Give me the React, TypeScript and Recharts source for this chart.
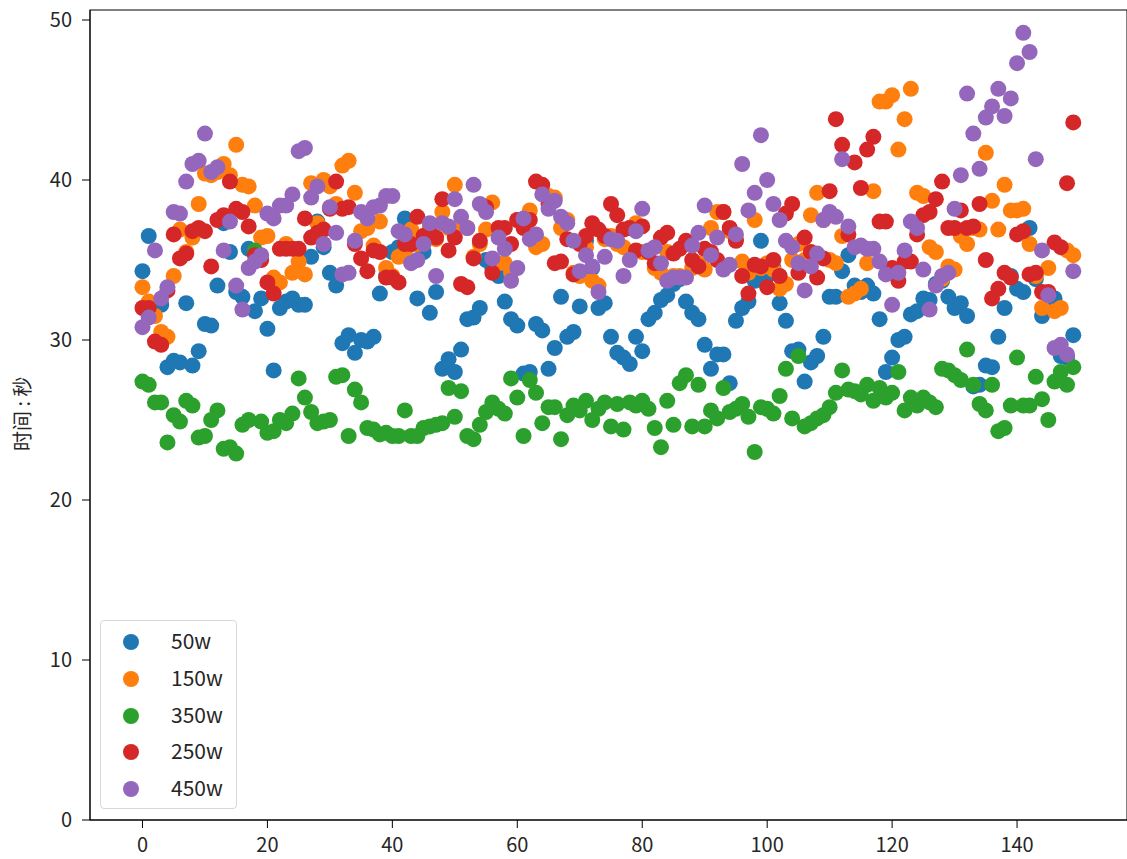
import React from "react";
import { ScatterChart, Scatter, XAxis, YAxis, Legend } from "recharts";

const w50 = [34.3,36.5,32,32.2,28.3,28.7,28.6,32.3,28.4,29.3,31,30.9,33.4,37.3,35.5,33,32.7,35.7,31.8,32.6,30.7,28.1,32,32.4,32.6,32.2,32.2,35.2,37.4,35.8,34.2,33.4,29.8,30.3,29.2,30,29.9,30.2,32.9,34,35.5,35.8,37.6,36,32.6,35.5,31.7,33,28.2,28.8,28,29.4,31.3,31.4,32,35,34.5,34,32.4,31.3,30.9,27.9,28,31,30.6,28.2,29.5,32.7,30.2,30.5,32.1,36.2,34.5,32,32.3,30.2,29.2,28.9,28.5,30.2,29.3,31.3,31.7,32.5,32.8,33.5,33.8,32.4,31.7,31.3,29.7,28.2,29.1,29.1,27.3,31.2,32,32.4,33.7,36.2,34,34.5,32.3,31.2,29.3,29.4,27.4,28.6,29,30.2,32.7,32.7,34.3,35.3,33.4,33,33.4,32.9,31.3,28,28.9,30,30.2,31.6,31.8,32.6,32.5,33.5,33.7,32.7,32,32.3,31.5,27.1,27.2,28.4,28.3,30.2,32,34,33.2,33,37,33.8,31.5,32.2,32.6,29,28.9,30.3];
const w150 = [33.3,32.4,31.5,30.5,30.2,34,36.9,35.5,36.4,38.5,40.4,40.3,40.5,41,40.3,42.2,39.7,39.6,38.4,36.4,36.5,33.9,33.6,36,34.2,34.9,34.1,39.8,37.3,40,39.6,38.5,40.9,41.2,39.2,36.8,37,35.9,37.4,34.5,34,35.2,35.5,36.9,36,36.5,37,36.3,38,37,39.7,37.2,37,35.2,36,36.9,38.6,34.8,34.8,34.2,37.5,37.2,38.1,35.8,36,39,38.9,37,37.5,34.2,34,35.8,33.7,33.4,36.3,36.5,36,35.8,37,37.3,35.5,35.5,34.5,34.2,35.5,34,34,36,34.5,34.8,34.4,37,38,38,36.8,36.3,34.9,34.2,37.5,34.5,34.8,34.4,33.2,33.5,35,36,35,37.8,39.2,37.5,35,34.8,36.5,32.7,32.9,33.2,34.8,39.3,44.9,44.9,45.3,41.9,43.8,45.7,39.2,39,35.8,35.5,33.8,34.6,34.4,36.5,36,37,36.9,41.7,38.7,36.9,39.7,38.1,38.1,38.2,36,34,32,34.5,31.8,32,35.6,35.3];
const w350 = [27.4,27.2,26.1,26.1,23.6,25.3,24.9,26.2,25.9,23.9,24,25,25.6,23.2,23.3,22.9,24.7,25,35.6,24.9,24.2,24.3,25,24.8,25.4,27.6,26.4,25.5,24.8,24.9,25,27.7,27.8,24,26.9,26.1,24.5,24.4,24.1,24.2,24,24,25.6,24,24,24.5,24.6,24.7,24.8,27,25.2,26.8,24,23.8,24.7,25.5,26.1,25.7,25.4,27.6,26.4,24,27.5,26.7,24.8,25.8,25.8,23.8,25.3,25.9,25.6,26.2,25,25.7,26.1,24.6,26,24.4,26.1,25.9,26.2,25.7,24.5,23.3,26.2,24.7,27.3,27.8,24.6,27.2,24.6,25.6,25.1,27,25.5,25.7,26,25.2,23,25.8,25.7,25.4,26.5,28.2,25.1,29,24.6,24.8,25.1,25.3,25.8,26.7,28.1,26.9,26.8,26.6,27.2,26.2,27,26.4,26.7,28,25.6,26.4,25.9,26.4,26.1,25.8,28.2,28.1,27.8,27.5,29.4,27.2,26,25.6,27.2,24.3,24.5,25.9,28.9,25.9,25.9,27.7,26.3,25,27.4,28,27.2,28.3];
const w250 = [32,32,29.9,29.7,33.1,36.6,35.1,35.4,36.8,37,36.8,34.6,37.5,37.8,39.9,38.2,38,37.1,35.3,35,33.6,32.9,35.7,35.7,35.7,35.7,37.6,36.4,36.7,36.9,38.2,39.9,38.2,38.3,36,35.1,34.3,35.6,35.5,33.9,33.9,33.6,36,36,37.7,36.5,36.7,36.4,38.8,35.6,36.4,33.5,33.3,35.1,36.2,38.3,34.2,37,37,36,37.5,37,37.5,39.9,39.7,38.5,34.8,34.9,36.3,34.1,36,36.5,37.3,36.9,36.5,38.5,37.8,36.9,37,35.6,37.1,35.5,34.8,36.4,36.7,35.4,35.7,36.2,35,34.6,35.7,35.5,35,38,37,36.2,34,32.9,34.7,34.6,33.3,35,34,37.9,38.5,34.2,36.4,35.5,33.9,35.1,39.3,43.8,42.2,36.6,41.1,39.5,41.9,42.7,37.4,37.4,34.5,33.7,34.9,34.9,36.6,37.8,38,38.8,39.9,37,37,38.1,37,37.1,38.5,35,32.6,33.2,34.2,33.9,36.6,36.8,34.1,34.2,33,33,36.1,35.8,39.8,43.6];
const w450 = [30.8,31.4,35.6,32.6,33.3,38,37.9,39.9,41,41.2,42.9,40.5,40.8,35.6,37.4,33.4,31.9,34.5,34.9,35.3,37.9,37.6,38.4,38.4,39.1,41.8,42,38.9,39.6,36,38.3,36.7,34.1,34.2,36.2,38,37.6,38.3,38.4,39,39,36.8,36.6,34.8,35,36,37.3,34,37.3,37.1,38.8,37.7,37,39.7,38.5,38,35.1,36.4,35.7,33.7,34.5,37.6,36.3,36.6,39.1,38.2,38.7,37.7,37.3,36.2,34.3,35.3,34.6,33,35.2,36.3,36.2,34,35,36.8,38.2,35.6,35.8,34.8,33.7,33.9,33.9,33.9,35.9,36.7,38.4,35.3,36.4,34.4,34.7,36.6,41,38.1,39.2,42.8,40,38.5,37.5,36.2,35.8,34.8,33.1,34.6,35.4,37.5,38,37.7,41.3,37.1,35.8,35.9,35.7,35.7,34.9,34.1,32.2,34.2,35.6,37.4,37,34.4,31.9,33.4,34,34.2,38.2,40.3,45.4,42.9,40.7,43.9,44.6,45.7,44,45.1,47.3,49.2,48,41.3,35.6,32.8,29.5,29.7,29.1,34.3];

const xTicks = [0, 20, 40, 60, 80, 100, 120, 140];
const yTicks = [0, 10, 20, 30, 40, 50];
const FONT = '"Noto Sans CJK SC", sans-serif';

const toPoints = (vals: number[]) => vals.map((y, x) => ({ x, y }));

const seriesList = [
  { name: "50w", values: w50, color: "#1f77b4" },
  { name: "150w", values: w150, color: "#ff7f0e" },
  { name: "350w", values: w350, color: "#2ca02c" },
  { name: "250w", values: w250, color: "#d62728" },
  { name: "450w", values: w450, color: "#9467bd" },
];

const dot = (color: string) => (p: any) => <circle cx={p.cx} cy={p.cy} r={8} fill={color} />;

const LegendBox = () => (
  <div
    style={{
      width: 137,
      height: 189,
      border: "1px solid #d8d8d8",
      borderRadius: 4,
      background: "rgba(255,255,255,0.8)",
      boxSizing: "border-box",
      fontFamily: FONT,
      fontSize: 21,
      color: "#262626",
      paddingTop: 3,
    }}
  >
    {seriesList.map((s) => (
      <div key={s.name} style={{ display: "flex", alignItems: "center", height: 36.7 }}>
        <svg width={16} height={16} style={{ marginLeft: 22, flex: "none" }}>
          <circle cx={8} cy={8} r={8} fill={s.color} />
        </svg>
        <span style={{ marginLeft: 32, lineHeight: "20px", position: "relative", top: -2 }}>{s.name}</span>
      </div>
    ))}
  </div>
);

export default function App() {
  return (
    <div style={{ position: "absolute", left: 0, top: 0, width: 1127, height: 859, background: "#fff", overflow: "hidden" }}>
      <ScatterChart width={1127} height={859} margin={{ top: 10, right: 0, bottom: 0, left: 0 }}>
        <rect x={90} y={10} width={1037} height={810} fill="none" stroke="#000" strokeWidth={1} />
        <XAxis
          type="number"
          dataKey="x"
          domain={[-8.4, 157.6]}
          ticks={xTicks}
          allowDataOverflow
          height={39}
          tick={{ fill: "#262626", fontSize: 20, fontFamily: FONT }}
          tickLine={{ stroke: "#000" }}
          tickSize={8}
          tickMargin={10}
          axisLine={{ stroke: "#000" }}
          interval={0}
        />
        <YAxis
          type="number"
          dataKey="y"
          domain={[0, 50.625]}
          ticks={yTicks}
          allowDataOverflow
          width={90}
          tick={{ fill: "#262626", fontSize: 20, fontFamily: FONT }}
          tickLine={{ stroke: "#000" }}
          tickSize={8}
          tickMargin={10}
          axisLine={{ stroke: "#000" }}
          interval={0}
          label={{
            value: "时间 : 秒",
            angle: -90,
            position: "insideLeft",
            dx: 18,
            dy: 36,
            style: { fill: "#262626", fontSize: 20, fontFamily: FONT },
          }}
        />
        {seriesList.map((s) => (
          <Scatter
            key={s.name}
            name={s.name}
            data={toPoints(s.values)}
            fill={s.color}
            shape={dot(s.color)}
            isAnimationActive={false}
          />
        ))}
        <Legend
          layout="horizontal"
          verticalAlign="middle"
          align="center"
          content={() => <LegendBox />}
          wrapperStyle={{ position: "absolute", left: 100, top: 620, width: 137, height: 189 }}
        />
      </ScatterChart>
    </div>
  );
}
